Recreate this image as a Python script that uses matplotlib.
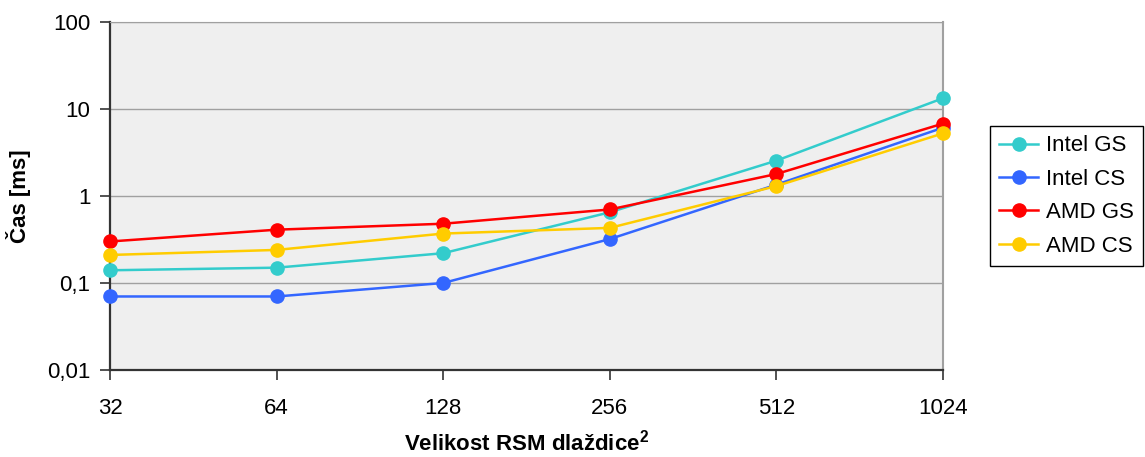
import matplotlib.pyplot as plt
from matplotlib.ticker import FixedLocator, NullLocator

plt.rcParams['font.family'] = ['Liberation Sans', 'DejaVu Sans']
plt.rcParams['mathtext.fontset'] = 'custom'
plt.rcParams['mathtext.bf'] = 'Liberation Sans:bold'

sizes = ["32", "64", "128", "256", "512", "1024"]
intel_gs = [0.14, 0.15, 0.22, 0.65, 2.55, 13.3]
intel_cs = [0.07, 0.07, 0.10, 0.32, 1.35, 6.1]
amd_gs = [0.30, 0.41, 0.48, 0.70, 1.79, 6.8]
amd_cs = [0.21, 0.24, 0.37, 0.43, 1.30, 5.25]

series = [("Intel GS", intel_gs, "#33CCCC"),
          ("Intel CS", intel_cs, "#3366FF"),
          ("AMD GS", amd_gs, "#FF0000"),
          ("AMD CS", amd_cs, "#FFCC00")]

fs = 16

fig = plt.figure(figsize=(11.45, 4.57), dpi=100)
ax = fig.add_axes([110/1145, 1-370/457, (943-110)/1145, (370-22)/457])
ax.set_facecolor("#efefef")

x = list(range(len(sizes)))
for name, vals, col in series:
    ax.plot(x, vals, color=col, lw=1.8, marker="o", ms=9.5, label=name, clip_on=False, zorder=3)

ax.set_yscale("log")
ax.set_ylim(0.01, 100)
ax.set_xlim(0, len(sizes)-1)
yt = [0.01, 0.1, 1, 10, 100]
ax.yaxis.set_major_locator(FixedLocator(yt))
ax.yaxis.set_minor_locator(NullLocator())
ax.set_yticklabels(["0,01", "0,1", "1", "10", "100"])
ax.set_xticks(x)
ax.set_xticklabels(sizes)
ax.grid(axis="y", color="#a0a0a0", lw=1)
ax.set_axisbelow(True)

ax.tick_params(axis="both", direction="out", length=7, width=1.2, color="#333333", labelsize=fs)
ax.tick_params(axis="y", pad=7)
ax.tick_params(axis="x", pad=13)
ax.spines["left"].set_color("#333333")
ax.spines["bottom"].set_color("#333333")
ax.spines["left"].set_linewidth(1.6)
ax.spines["bottom"].set_linewidth(1.6)
ax.spines["top"].set_color("#a0a0a0")
ax.spines["right"].set_color("#a0a0a0")
ax.spines["right"].set_linewidth(1.5)

ax.set_ylabel("Čas [ms]", fontsize=fs, fontweight="bold", labelpad=12)
ax.set_xlabel(r"Velikost RSM dlaždice$^{\mathbf{2}}$", fontsize=fs, fontweight="bold", labelpad=8)

leg = fig.legend(loc="center left", bbox_to_anchor=(990/1145, 1-196/457), fontsize=fs,
                 frameon=True, fancybox=False, edgecolor="#000000", framealpha=1,
                 handlelength=1.75, handletextpad=0.35, labelspacing=0.56, borderpad=0.42,
                 borderaxespad=0)
leg.get_frame().set_linewidth(1)

fig.savefig("out.png", dpi=100)
